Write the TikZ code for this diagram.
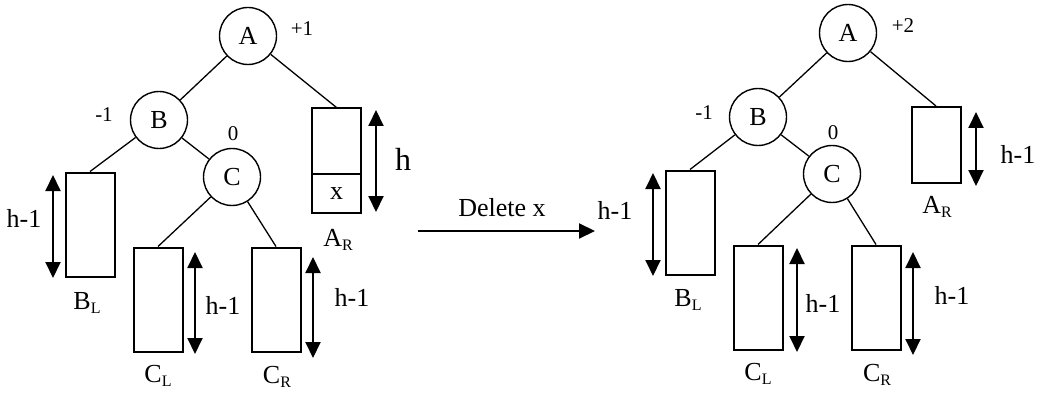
\documentclass[tikz,border=0pt]{standalone}
\usepackage{fontspec}
\setmainfont{Liberation Serif}
\usetikzlibrary{arrows.meta}
\newcommand{\sbs}[1]{\raisebox{-0.35ex}{\fontsize{16}{16}\selectfont #1}}
\begin{document}
\begin{tikzpicture}[x=1pt,y=-1pt,
  every node/.style={font=\fontsize{26}{30}\selectfont, inner sep=0pt},
  vtx/.style={circle, draw, line width=1.4pt, minimum size=57pt},
  subtree/.style={draw, line width=2pt, minimum width=49pt, minimum height=104pt},
  edge/.style={line width=1.3pt},
  ht/.style={line width=2pt, {Triangle[length=16pt,width=15pt]}-{Triangle[length=16pt,width=15pt]}},
  bal/.style={font=\fontsize{21}{24}\selectfont}
]
\useasboundingbox (0,0) rectangle (1041,393);

% ---------- left tree ----------
\node[vtx] (A1) at (248,36) {A};
\node[vtx] (B1) at (159,120) {B};
\node[vtx] (C1) at (232,177) {C};
\node[subtree] (BL1) at (90,224.5) {};
\node[subtree] (CL1) at (158,299.5) {};
\node[subtree] (CR1) at (276,299.5) {};
\node[subtree] (AR1) at (336.5,160.5) {};
\node[draw, line width=2pt, minimum width=49pt, minimum height=39pt] (X1) at (336.5,193.5) {x};

\draw[edge] (A1) -- (B1);
\draw[edge] (A1) -- (AR1.north);
\draw[edge] (B1) -- (BL1.north);
\draw[edge] (B1) -- (C1);
\draw[edge] (C1) -- (CL1.north);
\draw[edge] (C1) -- (CR1.north);

\node[bal] (bA1) at (302,29) {+1};
\node[bal] (bB1) at (104,115) {-1};
\node[bal] (bC1) at (233,134) {0};

\node (lAR1) at (338,240) {A\sbs{R}};
\node (lBL1) at (87,303) {B\sbs{L}};
\node (lCL1) at (158,376) {C\sbs{L}};
\node (lCR1) at (277,377) {C\sbs{R}};

\coordinate (hBLt1) at (53,175); \coordinate (hBLb1) at (53,278);
\coordinate (hCLt1) at (195,252); \coordinate (hCLb1) at (195,354);
\coordinate (hCRt1) at (313,257); \coordinate (hCRb1) at (313,358);
\coordinate (hARt1) at (376,110); \coordinate (hARb1) at (376,212);
\draw[ht] (hBLt1) -- (hBLb1);
\draw[ht] (hCLt1) -- (hCLb1);
\draw[ht] (hCRt1) -- (hCRb1);
\draw[ht] (hARt1) -- (hARb1);
\node (tBL1) at (24,218) {h-1};
\node (tCL1) at (223,305) {h-1};
\node (tCR1) at (352,297) {h-1};
\node[font=\fontsize{32}{36}\selectfont] (tAR1) at (403,159) {h};

% ---------- transition ----------
\coordinate (m1) at (418,231);
\coordinate (m2) at (595,231);
\draw[line width=2pt, -{Triangle[length=16pt,width=15pt]}] (m1) -- (m2);
\node (del) at (502,208) {Delete x};

% ---------- right tree ----------
\node[vtx] (A2) at (848,33) {A};
\node[vtx] (B2) at (758,117) {B};
\node[vtx] (C2) at (832,174) {C};
\node[subtree] (BL2) at (690,222.5) {};
\node[subtree] (CL2) at (758,297.5) {};
\node[subtree] (CR2) at (876,297.5) {};
\node[subtree, minimum height=76pt] (AR2) at (936,145) {};

\draw[edge] (A2) -- (B2);
\draw[edge] (A2) -- (AR2.north);
\draw[edge] (B2) -- (BL2.north);
\draw[edge] (B2) -- (C2);
\draw[edge] (C2) -- (CL2.north);
\draw[edge] (C2) -- (CR2.north);

\node[bal] (bA2) at (903,26) {+2};
\node[bal] (bB2) at (704,113) {-1};
\node[bal] (bC2) at (833,133) {0};

\node (lAR2) at (937,207) {A\sbs{R}};
\node (lBL2) at (688,300) {B\sbs{L}};
\node (lCL2) at (758,374) {C\sbs{L}};
\node (lCR2) at (877,375) {C\sbs{R}};

\coordinate (hBLt2) at (653,173); \coordinate (hBLb2) at (653,276);
\coordinate (hCLt2) at (797,248); \coordinate (hCLb2) at (797,352);
\coordinate (hCRt2) at (913,252); \coordinate (hCRb2) at (913,355);
\coordinate (hARt2) at (976,112); \coordinate (hARb2) at (976,186);
\draw[ht] (hBLt2) -- (hBLb2);
\draw[ht] (hCLt2) -- (hCLb2);
\draw[ht] (hCRt2) -- (hCRb2);
\draw[ht] (hARt2) -- (hARb2);
\node (tBL2) at (615,210) {h-1};
\node (tCL2) at (823,303) {h-1};
\node (tCR2) at (952,295) {h-1};
\node (tAR2) at (1018,154) {h-1};
\end{tikzpicture}
\end{document}
